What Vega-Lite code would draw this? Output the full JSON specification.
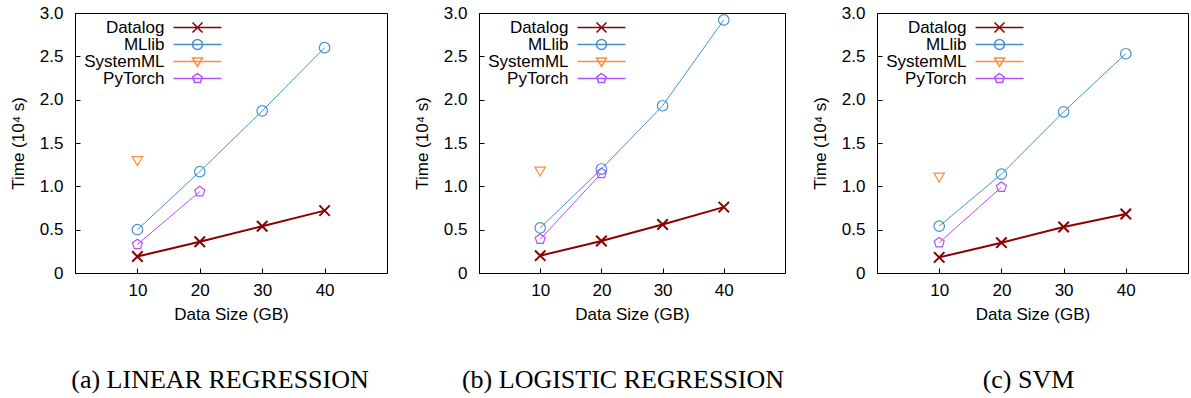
{
  "$schema": "https://vega.github.io/schema/vega-lite/v6.json",
  "background": "white",
  "padding": {"left": 8, "top": 3, "right": 0, "bottom": 0},
  "autosize": {"type": "pad"},
  "bounds": "flush",
  "spacing": 92,
  "datasets": {
    "lr": [
      {"size": 10, "time": 0.19, "sys": "Datalog"},
      {"size": 20, "time": 0.36, "sys": "Datalog"},
      {"size": 30, "time": 0.54, "sys": "Datalog"},
      {"size": 40, "time": 0.72, "sys": "Datalog"},
      {"size": 10, "time": 0.5, "sys": "MLlib"},
      {"size": 20, "time": 1.17, "sys": "MLlib"},
      {"size": 30, "time": 1.87, "sys": "MLlib"},
      {"size": 40, "time": 2.6, "sys": "MLlib"},
      {"size": 10, "time": 1.3, "sys": "SystemML"},
      {"size": 10, "time": 0.33, "sys": "PyTorch"},
      {"size": 20, "time": 0.94, "sys": "PyTorch"}
    ],
    "logr": [
      {"size": 10, "time": 0.2, "sys": "Datalog"},
      {"size": 20, "time": 0.37, "sys": "Datalog"},
      {"size": 30, "time": 0.56, "sys": "Datalog"},
      {"size": 40, "time": 0.76, "sys": "Datalog"},
      {"size": 10, "time": 0.52, "sys": "MLlib"},
      {"size": 20, "time": 1.2, "sys": "MLlib"},
      {"size": 30, "time": 1.93, "sys": "MLlib"},
      {"size": 40, "time": 2.92, "sys": "MLlib"},
      {"size": 10, "time": 1.18, "sys": "SystemML"},
      {"size": 10, "time": 0.39, "sys": "PyTorch"},
      {"size": 20, "time": 1.15, "sys": "PyTorch"}
    ],
    "svm": [
      {"size": 10, "time": 0.18, "sys": "Datalog"},
      {"size": 20, "time": 0.35, "sys": "Datalog"},
      {"size": 30, "time": 0.53, "sys": "Datalog"},
      {"size": 40, "time": 0.68, "sys": "Datalog"},
      {"size": 10, "time": 0.54, "sys": "MLlib"},
      {"size": 20, "time": 1.14, "sys": "MLlib"},
      {"size": 30, "time": 1.86, "sys": "MLlib"},
      {"size": 40, "time": 2.53, "sys": "MLlib"},
      {"size": 10, "time": 1.11, "sys": "SystemML"},
      {"size": 10, "time": 0.35, "sys": "PyTorch"},
      {"size": 20, "time": 0.99, "sys": "PyTorch"}
    ]
  },
  "resolve": {
    "scale": {"color": "independent", "shape": "independent", "x": "independent", "y": "independent"},
    "legend": {"color": "independent", "shape": "independent"}
  },
  "hconcat": [
    {
      "width": 312, "height": 260,
      "data": {"name": "lr"},
      "title": {"text": "(a) LINEAR REGRESSION", "dx": -11},
      "encoding": {
        "x": {"field": "size", "type": "quantitative", "scale": {"domain": [0, 50], "nice": false}, "axis": {"values": [10, 20, 30, 40], "title": "Data Size (GB)"}},
        "y": {"field": "time", "type": "quantitative", "scale": {"domain": [0, 3], "nice": false}, "axis": {"values": [0, 0.5, 1, 1.5, 2, 2.5, 3], "labelExpr": "datum.value == 0 ? '0' : format(datum.value, '.1f')", "title": "Time (10⁴ s)"}},
        "color": {"field": "sys", "type": "nominal", "scale": {"domain": ["Datalog", "MLlib", "SystemML", "PyTorch"], "range": ["#8b0000", "#4691cd", "#ff8c3c", "#b450ff"]}}
      },
      "layer": [
        {
          "mark": {"type": "line"},
          "encoding": {
            "strokeWidth": {"condition": {"test": "datum.sys === 'Datalog'", "value": 2}, "value": 1}
          }
        },
        {
          "mark": {"type": "point", "filled": false, "size": 110, "opacity": 1},
          "encoding": {
            "shape": {"condition": [
              {"test": "datum.sys === 'Datalog'", "value": "M-1,-1L1,1M-1,1L1,-1"},
              {"test": "datum.sys === 'MLlib'", "value": "circle"},
              {"test": "datum.sys === 'SystemML'", "value": "M-1,-0.7L1,-0.7L0,1Z"}
            ], "value": "M0,-1L0.951,-0.309L0.588,0.809L-0.588,0.809L-0.951,-0.309Z"},
            "strokeWidth": {"condition": {"test": "datum.sys === 'Datalog'", "value": 2}, "value": 1.2}
          }
        },
        {
          "transform": [{"filter": "datum.size < 0"}],
          "mark": {"type": "point", "filled": false, "size": 100, "opacity": 1},
          "encoding": {
            "shape": {"field": "sys", "type": "nominal", "scale": {"domain": ["Datalog", "MLlib", "SystemML", "PyTorch"], "range": ["M-4.8,0L4.8,0M-1,-1L1,1M-1,1L1,-1", "M-4.8,0L4.8,0M-1,0A1,1 0 1,0 1,0A1,1 0 1,0 -1,0", "M-4.8,0L4.8,0M-1,-0.7L1,-0.7L0,1Z", "M-4.8,0L4.8,0M0,-1L0.951,-0.309L0.588,0.809L-0.588,0.809L-0.951,-0.309Z"]}}
          }
        }
      ]
    },
    {
      "width": 306, "height": 260,
      "data": {"name": "logr"},
      "title": {"text": "(b) LOGISTIC REGRESSION", "dx": -9},
      "encoding": {
        "x": {"field": "size", "type": "quantitative", "scale": {"domain": [0, 50], "nice": false}, "axis": {"values": [10, 20, 30, 40], "title": "Data Size (GB)"}},
        "y": {"field": "time", "type": "quantitative", "scale": {"domain": [0, 3], "nice": false}, "axis": {"values": [0, 0.5, 1, 1.5, 2, 2.5, 3], "labelExpr": "datum.value == 0 ? '0' : format(datum.value, '.1f')", "title": "Time (10⁴ s)"}},
        "color": {"field": "sys", "type": "nominal", "scale": {"domain": ["Datalog", "MLlib", "SystemML", "PyTorch"], "range": ["#8b0000", "#4691cd", "#ff8c3c", "#b450ff"]}}
      },
      "layer": [
        {
          "mark": {"type": "line"},
          "encoding": {
            "strokeWidth": {"condition": {"test": "datum.sys === 'Datalog'", "value": 2}, "value": 1}
          }
        },
        {
          "mark": {"type": "point", "filled": false, "size": 110, "opacity": 1},
          "encoding": {
            "shape": {"condition": [
              {"test": "datum.sys === 'Datalog'", "value": "M-1,-1L1,1M-1,1L1,-1"},
              {"test": "datum.sys === 'MLlib'", "value": "circle"},
              {"test": "datum.sys === 'SystemML'", "value": "M-1,-0.7L1,-0.7L0,1Z"}
            ], "value": "M0,-1L0.951,-0.309L0.588,0.809L-0.588,0.809L-0.951,-0.309Z"},
            "strokeWidth": {"condition": {"test": "datum.sys === 'Datalog'", "value": 2}, "value": 1.2}
          }
        },
        {
          "transform": [{"filter": "datum.size < 0"}],
          "mark": {"type": "point", "filled": false, "size": 100, "opacity": 1},
          "encoding": {
            "shape": {"field": "sys", "type": "nominal", "scale": {"domain": ["Datalog", "MLlib", "SystemML", "PyTorch"], "range": ["M-4.8,0L4.8,0M-1,-1L1,1M-1,1L1,-1", "M-4.8,0L4.8,0M-1,0A1,1 0 1,0 1,0A1,1 0 1,0 -1,0", "M-4.8,0L4.8,0M-1,-0.7L1,-0.7L0,1Z", "M-4.8,0L4.8,0M0,-1L0.951,-0.309L0.588,0.809L-0.588,0.809L-0.951,-0.309Z"]}}
          }
        }
      ]
    },
    {
      "width": 311, "height": 260,
      "data": {"name": "svm"},
      "title": {"text": "(c) SVM", "dx": -4},
      "encoding": {
        "x": {"field": "size", "type": "quantitative", "scale": {"domain": [0, 50], "nice": false}, "axis": {"values": [10, 20, 30, 40], "title": "Data Size (GB)"}},
        "y": {"field": "time", "type": "quantitative", "scale": {"domain": [0, 3], "nice": false}, "axis": {"values": [0, 0.5, 1, 1.5, 2, 2.5, 3], "labelExpr": "datum.value == 0 ? '0' : format(datum.value, '.1f')", "title": "Time (10⁴ s)"}},
        "color": {"field": "sys", "type": "nominal", "scale": {"domain": ["Datalog", "MLlib", "SystemML", "PyTorch"], "range": ["#8b0000", "#4691cd", "#ff8c3c", "#b450ff"]}}
      },
      "layer": [
        {
          "mark": {"type": "line"},
          "encoding": {
            "strokeWidth": {"condition": {"test": "datum.sys === 'Datalog'", "value": 2}, "value": 1}
          }
        },
        {
          "mark": {"type": "point", "filled": false, "size": 110, "opacity": 1},
          "encoding": {
            "shape": {"condition": [
              {"test": "datum.sys === 'Datalog'", "value": "M-1,-1L1,1M-1,1L1,-1"},
              {"test": "datum.sys === 'MLlib'", "value": "circle"},
              {"test": "datum.sys === 'SystemML'", "value": "M-1,-0.7L1,-0.7L0,1Z"}
            ], "value": "M0,-1L0.951,-0.309L0.588,0.809L-0.588,0.809L-0.951,-0.309Z"},
            "strokeWidth": {"condition": {"test": "datum.sys === 'Datalog'", "value": 2}, "value": 1.2}
          }
        },
        {
          "transform": [{"filter": "datum.size < 0"}],
          "mark": {"type": "point", "filled": false, "size": 100, "opacity": 1},
          "encoding": {
            "shape": {"field": "sys", "type": "nominal", "scale": {"domain": ["Datalog", "MLlib", "SystemML", "PyTorch"], "range": ["M-4.8,0L4.8,0M-1,-1L1,1M-1,1L1,-1", "M-4.8,0L4.8,0M-1,0A1,1 0 1,0 1,0A1,1 0 1,0 -1,0", "M-4.8,0L4.8,0M-1,-0.7L1,-0.7L0,1Z", "M-4.8,0L4.8,0M0,-1L0.951,-0.309L0.588,0.809L-0.588,0.809L-0.951,-0.309Z"]}}
          }
        }
      ]
    }
  ],
  "config": {
    "view": {"stroke": "black", "strokeWidth": 1},
    "axis": {
      "domainColor": "black", "domainWidth": 1, "tickColor": "black", "tickSize": -5, "tickWidth": 1,
      "labelColor": "black", "titleColor": "black",
      "labelFont": "Liberation Sans", "titleFont": "Liberation Sans",
      "labelFontSize": 17, "titleFontSize": 17, "titleFontWeight": "normal", "grid": false
    },
    "axisX": {"labelPadding": 14.5, "titlePadding": 8},
    "axisY": {"labelPadding": 17, "titlePadding": 12},
    "legend": {
      "title": null, "orient": "none", "legendX": -5, "legendY": 6, "padding": 0, "rowPadding": -1,
      "labelFont": "Liberation Sans", "labelFontSize": 17, "labelColor": "black", "labelLimit": 0,
      "labelAlign": "right", "symbolOffset": 119, "labelOffset": -41.5,
      "symbolSize": 100, "symbolStrokeWidth": 1.5
    },
    "title": {
      "orient": "bottom", "anchor": "middle", "frame": "group",
      "font": "Liberation Serif", "fontSize": 26, "fontWeight": "normal", "color": "black", "offset": 44
    }
  }
}
